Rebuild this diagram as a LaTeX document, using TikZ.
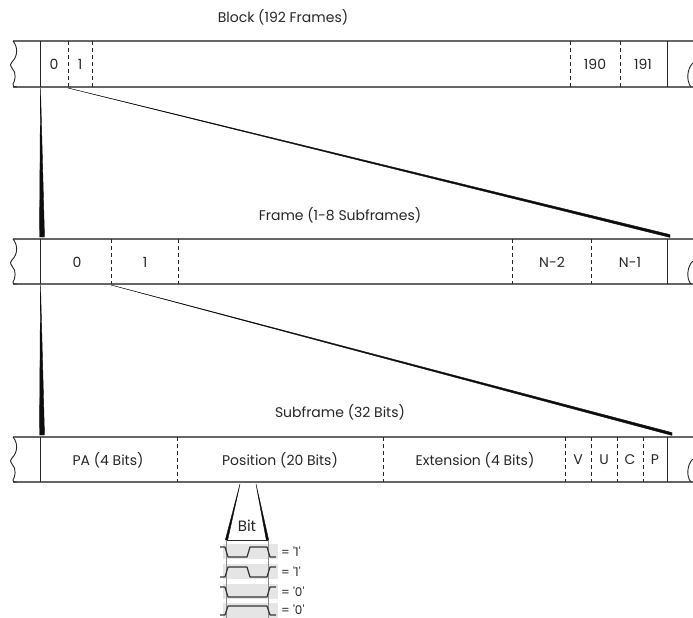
\documentclass[tikz,border=0pt]{standalone}
\usepackage{fontspec}
\setmainfont{Poppins}[Ligatures=TeXOff]
\begin{document}
\begin{tikzpicture}[x=1pt,y=-1pt,
  hline/.style={draw=black!60, line width=1.4pt},
  solidv/.style={draw=black!85, line width=0.9pt},
  dashv/.style={draw=black!85, line width=0.9pt, dash pattern=on 4pt off 3pt},
  brk/.style={draw=black!85, line width=0.9pt},
  lbl/.style={font=\fontsize{14}{16}\selectfont, text=black!85, inner sep=0pt},
  sml/.style={font=\fontsize{12}{13}\selectfont, text=black!85, inner sep=0pt, anchor=west},
  wedgefill/.style={fill=black!95, draw=black!95, line width=0.4pt, line join=round},
  sig/.style={draw=black!80, line width=1.2pt, line join=round},
  band/.style={fill=black!10, draw=none},
  guide/.style={draw=black!45, line width=0.6pt},
]
\useasboundingbox (0,0) rectangle (693,618);

% ---------- row frame macro ----------
\newcommand\rowframe[2]{%
  \draw[hline] (13,#1) -- (693,#1);
  \draw[hline] (13,#2) -- (693,#2);
  \draw[brk] (13,#1) .. controls (18,#1+6) and (18,#1+15) .. (12,#1+21)
     .. controls (10,#1+23) and (10,#1+24) .. (12,#1+27)
     .. controls (17,#1+32) and (15,#1+40) .. (13,#1+43)
     .. controls (12,#1+45) and (14,#2) .. (17,#2);
  \draw[brk] (693,#1+22) .. controls (687,#1+27) and (686,#1+40) .. (691,#2);
  \draw[solidv] (40,#1) -- (40,#2);
  \draw[solidv] (667,#1) -- (667,#2);
}

% ---------- Block row ----------
\rowframe{41}{87}
\node[lbl] (tblock) at (283,17) {Block (192 Frames)};
\foreach \x in {68,92,570,620} \draw[dashv] (\x,41) -- (\x,87);
\node[lbl] (b0) at (54,64) {0};
\node[lbl] (b1) at (80,64) {1};
\node[lbl] (b190) at (595,64) {190};
\node[lbl] (b191) at (643,64) {191};
\coordinate (b0bot) at (40.5,88);
\coordinate (b1bot) at (68,88);

% ---------- Frame row ----------
\rowframe{239}{284}
\node[lbl] (tframe) at (340,215) {Frame (1-8 Subframes)};
\foreach \x in {111,178,512,591} \draw[dashv] (\x,239) -- (\x,284);
\node[lbl] (f0) at (77,262) {0};
\node[lbl] (f1) at (145,262) {1};
\node[lbl] (fn2) at (552,262) {N-2};
\node[lbl] (fn1) at (630,262) {N-1};
\coordinate (f0top) at (42,237);
\coordinate (fendtop) at (670,236);
\coordinate (f0bot) at (40.5,285);
\coordinate (f1bot) at (111,285);

% ---------- Subframe row ----------
\rowframe{437}{482}
\node[lbl] (tsub) at (340,412) {Subframe (32 Bits)};
\foreach \x in {177,383,565,591,617,643} \draw[dashv] (\x,437) -- (\x,482);
\node[lbl] (spa) at (108,460) {PA (4 Bits)};
\node[lbl] (spos) at (280,460) {Position (20 Bits)};
\node[lbl] (sext) at (475,460) {Extension (4 Bits)};
\node[lbl] (sv) at (578,460) {V};
\node[lbl] (su) at (604,460) {U};
\node[lbl] (sc) at (630,460) {C};
\node[lbl] (sp) at (655,460) {P};
\coordinate (s0top) at (42,435);
\coordinate (sendtop) at (672,434);

% ---------- zoom wedges ----------
\fill[wedgefill] (b0bot) -- ([xshift=-2.5pt]f0top) -- ([xshift=2.5pt]f0top) -- cycle;
\fill[wedgefill] (b1bot) -- ([yshift=-1.4pt]fendtop) -- ([yshift=1.4pt]fendtop) -- cycle;
\fill[wedgefill] (f0bot) -- ([xshift=-2.5pt]s0top) -- ([xshift=2.5pt]s0top) -- cycle;
\fill[wedgefill] (f1bot) -- ([yshift=-1.4pt]sendtop) -- ([yshift=1.4pt]sendtop) -- cycle;

% ---------- Bit detail ----------
\coordinate (bitL) at (240,484);
\coordinate (bitR) at (256,484);
\coordinate (bitLB) at (226.5,540);
\coordinate (bitRB) at (267.5,540);
\fill[wedgefill] (bitL) -- ([xshift=-1.2pt]bitLB) -- ([xshift=1.2pt]bitLB) -- cycle;
\fill[wedgefill] (bitR) -- ([xshift=-1.2pt]bitRB) -- ([xshift=1.2pt]bitRB) -- cycle;
\draw[draw=black!85, line width=0.9pt] (bitLB) -- (bitRB);
\node[lbl, font=\fontsize{15}{16}\selectfont] (bitlbl) at (247,526) {Bit};

% bands
\foreach \h in {547,567,587,606} \fill[band] (223,\h-3) rectangle (278,\h+12);
% guides
\draw[guide] (226,540) -- (226,618);
\draw[guide] (268,540) -- (268,618);
% signals
\def\h{547}\def\l{557}
\draw[sig] (220,\h) -- (225,\h) -- (228,\l) -- (247,\l) -- (250,\h) -- (267,\h) -- (270,\l) -- (276,\l);
\node[sml] (v1) at (281,552) {= '1'};
\def\h{567}\def\l{577}
\draw[sig] (220,\l) -- (225,\l) -- (228,\h) -- (247,\h) -- (250,\l) -- (267,\l) -- (270,\h) -- (276,\h);
\node[sml] (v2) at (281,572) {= '1'};
\def\h{587}\def\l{597}
\draw[sig] (220,\h) -- (225,\h) -- (228,\l) -- (267,\l) -- (270,\h) -- (276,\h);
\node[sml] (v3) at (281,592) {= '0'};
\def\h{606}\def\l{615}
\draw[sig] (220,\l) -- (225,\l) -- (228,\h) -- (267,\h) -- (270,\l) -- (276,\l);
\node[sml] (v4) at (281,609.5) {= '0'};
\end{tikzpicture}
\end{document}
